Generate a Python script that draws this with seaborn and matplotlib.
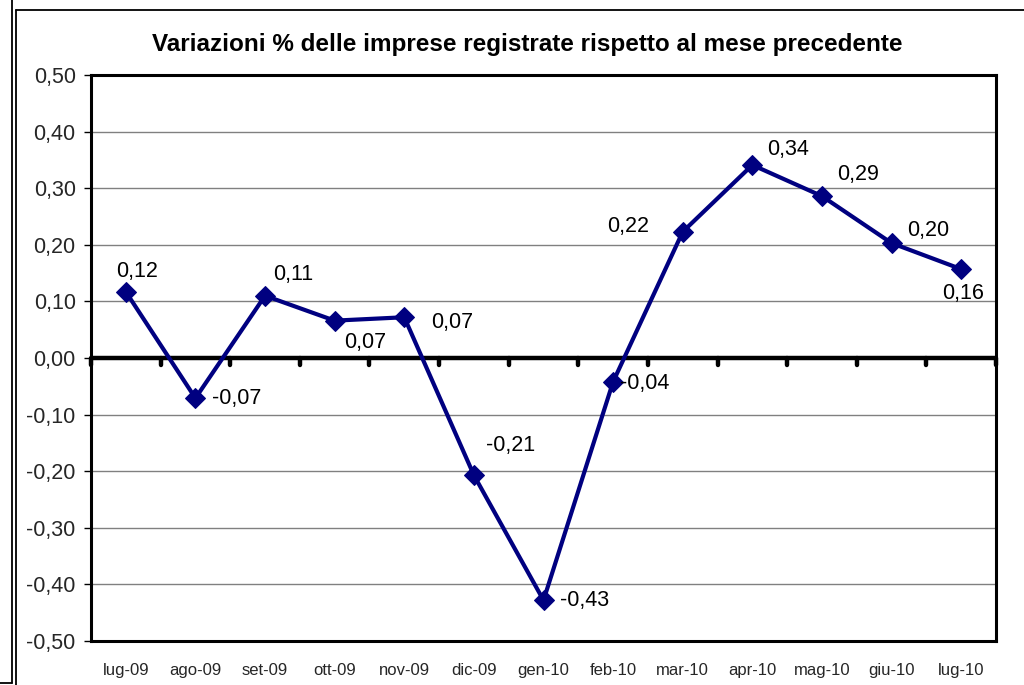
import matplotlib
matplotlib.use("Agg")
import matplotlib.pyplot as plt
import seaborn as sns
import pandas as pd
import numpy as np
from matplotlib.lines import Line2D

months = ["lug-09", "ago-09", "set-09", "ott-09", "nov-09", "dic-09", "gen-10",
          "feb-10", "mar-10", "apr-10", "mag-10", "giu-10", "lug-10"]
values = [0.117, -0.071, 0.11, 0.066, 0.072, -0.207, -0.428,
          -0.042, 0.223, 0.341, 0.286, 0.203, 0.157]
title = "Variazioni % delle imprese registrate rispetto al mese precedente"
yticks = [-0.5, -0.4, -0.3, -0.2, -0.1, 0.0, 0.1, 0.2, 0.3, 0.4, 0.5]

sns.set_theme(style="white")
plt.rcParams['font.family'] = ['Liberation Sans', 'DejaVu Sans']

df = pd.DataFrame({"mese": months, "val": values, "x": np.arange(len(months))})

fig = plt.figure(figsize=(10.24, 6.85), dpi=100)
ax = fig.add_axes([91/1024, 1 - 641/685, (996-91)/1024, (641-75)/685])

# zero axis line with tick marks at category boundaries
ax.axhline(0, color="black", linewidth=3.2, zorder=2)
for b in np.arange(-0.5, len(months), 1.0):
    ax.plot([b, b], [0, -0.012], color="black", linewidth=3.2,
            solid_capstyle="round", zorder=2, clip_on=False)

sns.lineplot(data=df, x="x", y="val", ax=ax, color="#000080", linewidth=3.0,
             marker="D", markersize=10, markeredgecolor="#000080",
             markerfacecolor="#000080", zorder=4)
ax.set_xlabel("")
ax.set_ylabel("")

ax.set_ylim(-0.5, 0.5)
ax.set_xlim(-0.5, len(months) - 0.5)
ax.set_yticks(yticks)
ax.set_yticklabels([f"{v:.2f}".replace(".", ",") for v in yticks], fontsize=15.5)
ax.yaxis.grid(True, color="#808080", linewidth=1.0)
ax.set_axisbelow(True)
ax.tick_params(axis="y", left=True, length=5, width=1, color="black", pad=6)

ax.set_xticks(df["x"])
ax.set_xticklabels(months, fontsize=12)
ax.tick_params(axis="x", bottom=False, pad=10)

for s in ax.spines.values():
    s.set_color("black")
    s.set_linewidth(2.2)

# label offsets (points): dx, dy, ha, va
offsets = [(-7, 7, "left", "bottom"), (12, 0, "left", "center"), (6, 8, "left", "bottom"),
           (7, -8, "left", "top"), (19, -4, "left", "center"), (9, 14, "left", "bottom"),
           (12, 0, "left", "center"), (5, -1, "left", "center"), (-24, 4, "right", "center"),
           (11, 3.5, "left", "bottom"), (11, 8, "left", "bottom"), (11, 1.5, "left", "bottom"),
           (-14, -10, "left", "top")]
for xi, v, (dx, dy, ha, va) in zip(df["x"], values, offsets):
    ax.annotate(f"{v:.2f}".replace(".", ","), (xi, v), xytext=(dx, dy),
                textcoords="offset points", ha=ha, va=va, fontsize=15.5,
                color="black", zorder=5)

fig.text(527/1024, 1 - 44/685, title, ha="center", va="center",
         fontsize=17.5, fontweight="bold", color="black")

# outer frame lines
def fline(x0, y0, x1, y1, lw=1.3):
    fig.add_artist(Line2D([x0/1024, x1/1024], [1 - y0/685, 1 - y1/685],
                          transform=fig.transFigure, color="black", linewidth=lw))
fline(11.5, 0, 11.5, 683)
fline(0, 683, 11.5, 683)
fline(15.5, 9.5, 15.5, 685)
fline(15.5, 9.5, 1024, 9.5)

fig.savefig("out.png", dpi=100)
